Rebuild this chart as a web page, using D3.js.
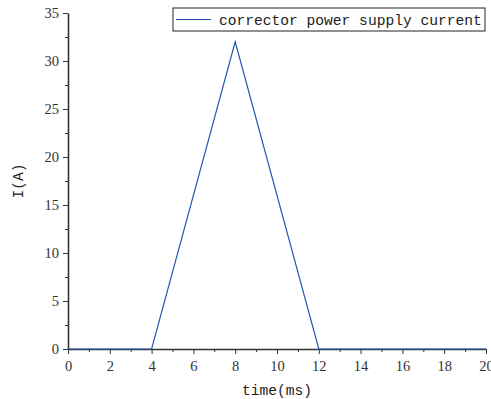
<!DOCTYPE html>
<html>
<head>
<meta charset="utf-8">
<script src="https://cdn.jsdelivr.net/npm/d3@7"></script>
<style>
body { margin: 0; background: #fff; }
.axis text { font-family: "Liberation Serif", serif; font-size: 14.5px; fill: #333; }
.axis path, .axis line { stroke: #333; }
.lbl { font-family: "Liberation Mono", monospace; font-size: 14.6px; fill: #222; }
</style>
</head>
<body>
<div class="chart"></div>
<script>
var timeMs = [0, 4, 8, 12, 20];
var current = [0, 0, 32, 0, 0];
var xTicks = [0, 2, 4, 6, 8, 10, 12, 14, 16, 18, 20];
var yTicks = [0, 5, 10, 15, 20, 25, 30, 35];
var seriesName = "corrector power supply current";

var data = timeMs.map(function(t, i){ return {t: t, v: current[i]}; });

var width = 491, height = 399;
var margin = {top: 13, right: 5, bottom: 50, left: 68};
var w = width - margin.left - margin.right;
var h = height - margin.top - margin.bottom;

var svg = d3.select(".chart").append("svg")
	.attr("width", width)
	.attr("height", height);

var g = svg.append("g").attr("transform", "translate(" + margin.left + "," + margin.top + ")");

var x = d3.scaleLinear().domain([0, 20]).range([0, w]);
var y = d3.scaleLinear().domain([0, 35]).range([h, 0]);

// minor ticks
g.append("g").attr("class", "axis")
	.attr("transform", "translate(0," + h + ")")
	.call(d3.axisBottom(x).tickValues(d3.range(1, 20, 2)).tickSize(3).tickFormat(""))
	.select(".domain").remove();
g.append("g").attr("class", "axis")
	.call(d3.axisLeft(y).tickValues(d3.range(2.5, 35, 5)).tickSize(3).tickFormat(""))
	.select(".domain").remove();

g.append("g").attr("class", "axis")
	.attr("transform", "translate(0," + h + ")")
	.call(d3.axisBottom(x).tickValues(xTicks).tickSize(5).tickSizeOuter(0).tickPadding(7));
g.append("g").attr("class", "axis")
	.call(d3.axisLeft(y).tickValues(yTicks).tickSize(5).tickSizeOuter(0).tickPadding(4));
g.selectAll(".axis .domain").style("stroke-width", 1.6);

var line = d3.line().x(function(d){ return x(d.t); }).y(function(d){ return y(d.v); });
g.append("path")
	.datum(data)
	.attr("d", line)
	.style("fill", "none")
	.style("stroke", "#2456b0")
	.style("stroke-width", 1.2);

svg.append("text").attr("class", "lbl")
	.attr("x", 277).attr("y", 395)
	.attr("text-anchor", "middle")
	.text("time(ms)");
svg.append("text").attr("class", "lbl")
	.attr("transform", "translate(23," + (margin.top + h / 2) + ") rotate(-90)")
	.attr("text-anchor", "middle")
	.text("I(A)");

// legend
var lg = svg.append("g").attr("transform", "translate(173,8)");
lg.append("rect").attr("width", 312).attr("height", 23)
	.style("fill", "#fff").style("stroke", "#222").style("stroke-width", 1);
lg.append("line").attr("x1", 3).attr("x2", 38).attr("y1", 11.5).attr("y2", 11.5)
	.style("stroke", "#2456b0").style("stroke-width", 1.2);
lg.append("text").attr("class", "lbl").attr("x", 46).attr("y", 16.5).text(seriesName);
</script>
</body>
</html>
